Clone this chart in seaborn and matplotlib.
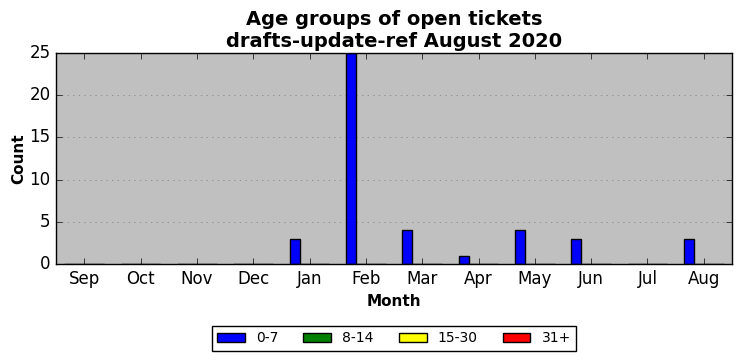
import pandas as pd
import matplotlib
matplotlib.use('Agg')
import matplotlib.pyplot as plt
import seaborn as sns

months = ['Sep', 'Oct', 'Nov', 'Dec', 'Jan', 'Feb', 'Mar', 'Apr', 'May', 'Jun', 'Jul', 'Aug']
age_groups = ['0-7', '8-14', '15-30', '31+']
cnt_0_7 = [0, 0, 0, 0, 3, 25, 4, 1, 4, 3, 0, 3]
cnt_8_14 = [0, 0, 0, 0, 0, 0, 0, 0, 0, 0, 0, 0]
cnt_15_30 = [0, 0, 0, 0, 0, 0, 0, 0, 0, 0, 0, 0]
cnt_31 = [0, 0, 0, 0, 0, 0, 0, 0, 0, 0, 0, 0]
colors = {'0-7': 'blue', '8-14': 'green', '15-30': 'yellow', '31+': 'red'}

rows = []
for grp, vals in zip(age_groups, [cnt_0_7, cnt_8_14, cnt_15_30, cnt_31]):
    for m, v in zip(months, vals):
        rows.append({'month': m, 'group': grp, 'count': v})
df = pd.DataFrame(rows)

plt.style.use('classic')
fig = plt.figure(figsize=(7.42, 3.61), dpi=100, facecolor='white')
ax = fig.add_axes([56/742, 1 - 264/361, 676/742, 211/361])
ax.set_facecolor('silver')

sns.barplot(data=df, x='month', y='count', hue='group', order=months,
            hue_order=age_groups, palette=colors, width=0.7, errorbar=None,
            edgecolor='black', linewidth=1, saturation=1, ax=ax)

ax.set_xlim(-0.5, 11.5)
ax.set_ylim(0, 25)
ax.set_yticks([0, 5, 10, 15, 20, 25])
ax.yaxis.grid(True, linestyle=':', color='gray')
ax.set_axisbelow(True)
ax.set_title('Age groups of open tickets\ndrafts-update-ref August 2020',
             fontsize=14, fontweight='bold', y=0.995)
ax.set_xlabel('Month', fontsize=11, fontweight='bold')
ax.set_ylabel('Count', fontsize=11, fontweight='bold', labelpad=2)
ax.tick_params(labelsize=12)

sns.move_legend(ax, 'upper center', bbox_to_anchor=(0.5, -0.26), ncol=4,
                frameon=True, fancybox=False, title=None, fontsize=10,
                columnspacing=1.8)

fig.savefig('out.png', dpi=100, facecolor='white')
